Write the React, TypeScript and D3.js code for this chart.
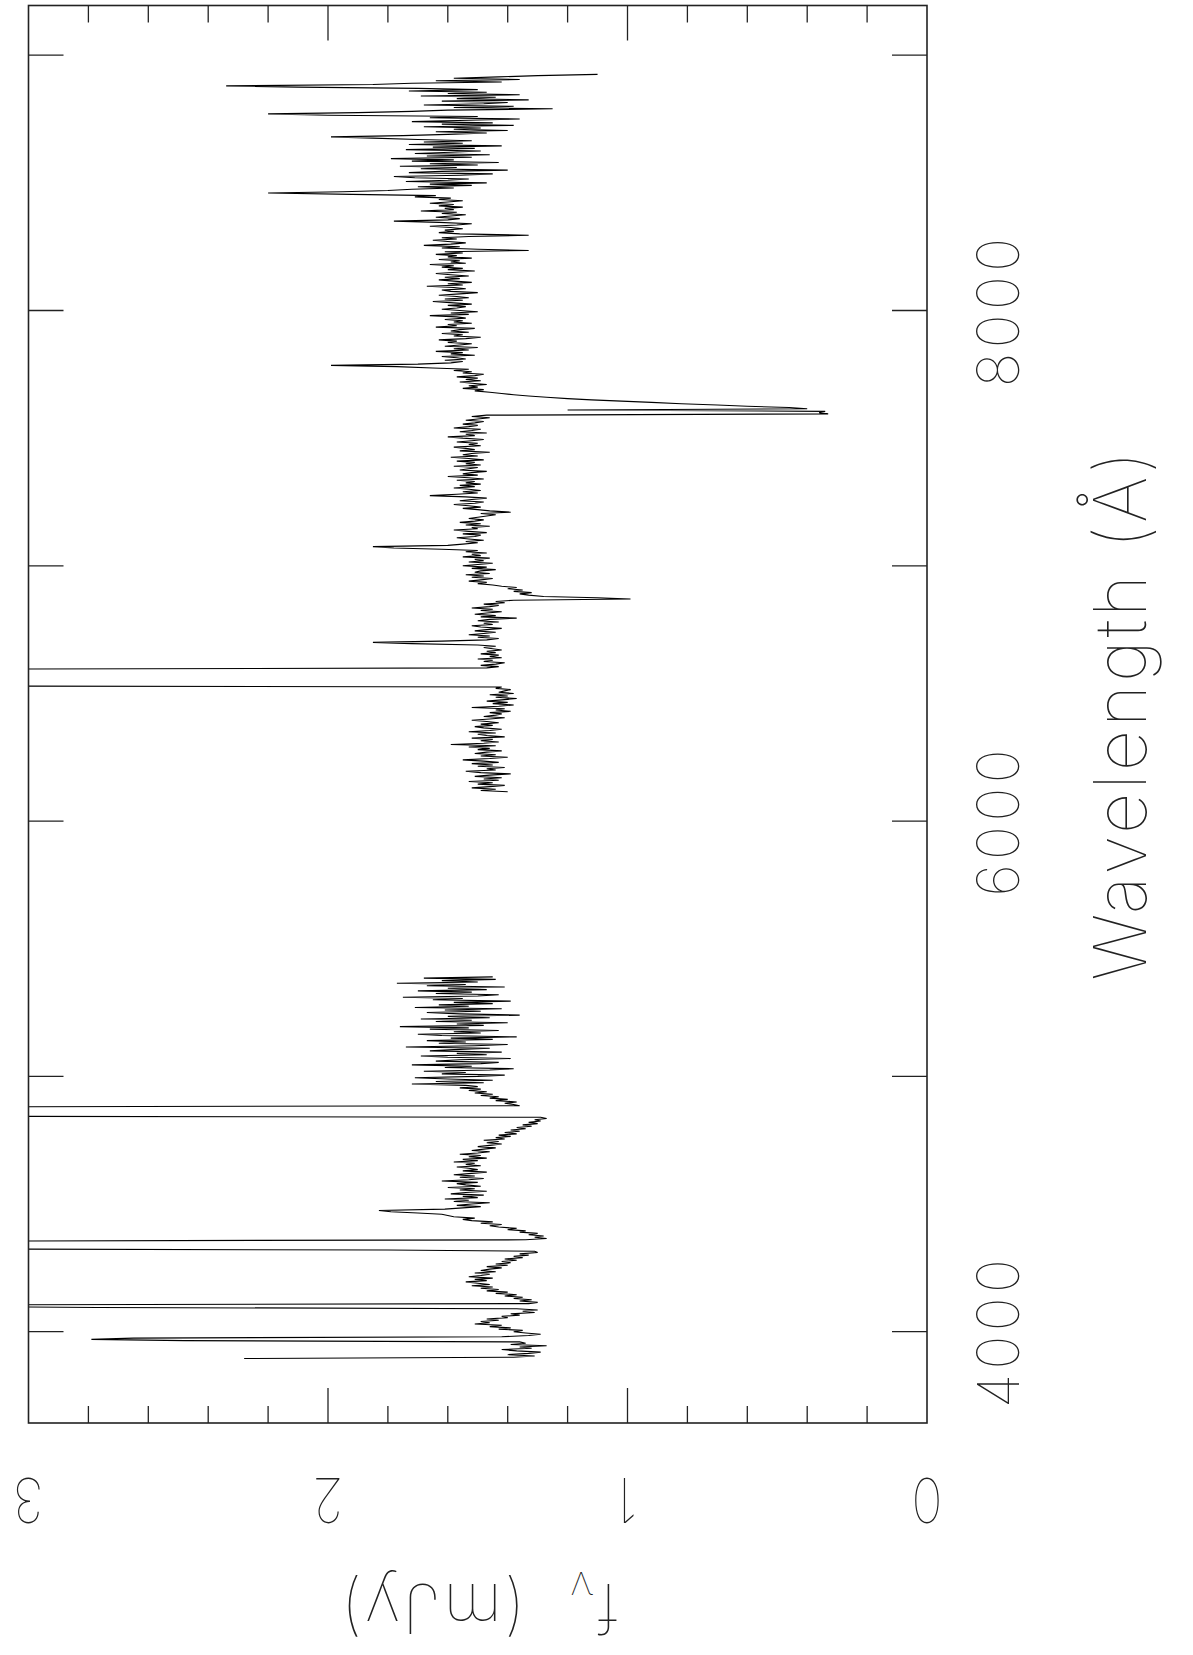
import React from 'react';
import * as d3 from 'd3';

const W = 1193;
const H = 1655;

// plot frame (pixels)
const frame = { left: 28.5, right: 927, top: 5.5, bottom: 1423 };

// wavelength grid of the two spectrum pieces (Angstrom)
const step = 5;
const blueStart = 3895;
const redStart = 6115;

// blue arm flux, mJy (10 samples = 50 A per row)
const blueFlux = [
  2.28, 1.38, 1.31, 1.40, 1.33, 1.29, 1.37, 1.42, 1.32, 1.36, // 3895
  1.27, 1.39, 1.34, 1.36, 2.48, 2.79, 2.65, 1.42, 1.33, 1.29, // 3945
  1.34, 1.38, 1.35, 1.43, 1.39, 1.46, 1.42, 1.51, 1.46, 1.49, // 3995
  1.43, 1.47, 1.40, 1.42, 1.36, 1.39, 1.31, 1.35, 1.30, 1.37, // 4045
  2.77, 3.40, 3.15, 1.33, 1.30, 1.36, 1.32, 1.38, 1.35, 1.41, // 4095
  1.37, 1.44, 1.40, 1.47, 1.43, 1.49, 1.45, 1.52, 1.46, 1.50, // 4145
  1.54, 1.47, 1.51, 1.45, 1.53, 1.49, 1.46, 1.51, 1.44, 1.49, // 4195
  1.46, 1.42, 1.47, 1.40, 1.44, 1.39, 1.42, 1.37, 1.41, 1.35, // 4245
  1.38, 1.33, 1.36, 1.30, 1.31, 1.80, 3.60, 4.20, 4.50, 4.60, // 4295
  4.30, 3.80, 3.20, 1.34, 1.27, 1.31, 1.28, 1.33, 1.30, 1.36, // 4345
  1.34, 1.40, 1.37, 1.43, 1.46, 1.42, 1.49, 1.45, 1.52, 1.55, // 4395
  1.51, 1.58, 1.60, 1.62, 1.70, 1.79, 1.83, 1.61, 1.55, 1.49, // 4445
  1.57, 1.52, 1.46, 1.58, 1.53, 1.61, 1.50, 1.55, 1.48, 1.59, // 4495
  1.54, 1.47, 1.56, 1.51, 1.60, 1.49, 1.54, 1.57, 1.50, 1.62, // 4545
  1.53, 1.48, 1.56, 1.51, 1.58, 1.52, 1.47, 1.55, 1.50, 1.53, // 4595
  1.57, 1.49, 1.54, 1.51, 1.58, 1.50, 1.55, 1.47, 1.53, 1.49, // 4645
  1.56, 1.50, 1.46, 1.52, 1.48, 1.44, 1.50, 1.46, 1.42, 1.47, // 4695
  1.43, 1.48, 1.41, 1.44, 1.39, 1.43, 1.37, 1.41, 1.36, 1.39, // 4745
  1.34, 1.37, 1.32, 1.35, 1.30, 1.33, 1.29, 1.31, 1.27, 1.29, // 4795
  3.80, 4.40, 4.90, 5.20, 5.00, 4.50, 4.00, 3.40, 1.36, 1.38, // 4845
  1.41, 1.37, 1.44, 1.40, 1.46, 1.43, 1.49, 1.45, 1.51, 1.47, // 4895
  1.53, 1.49, 1.56, 1.50, 1.54, 1.72, 1.48, 1.64, 1.45, 1.60, // 4945
  1.71, 1.50, 1.41, 1.62, 1.54, 1.68, 1.46, 1.38, 1.61, 1.52, // 4995
  1.72, 1.49, 1.43, 1.64, 1.56, 1.39, 1.60, 1.69, 1.47, 1.57, // 5045
  1.42, 1.66, 1.58, 1.46, 1.74, 1.51, 1.40, 1.63, 1.54, 1.67, // 5095
  1.45, 1.59, 1.37, 1.62, 1.70, 1.49, 1.58, 1.43, 1.66, 1.53, // 5145
  1.76, 1.48, 1.57, 1.40, 1.64, 1.52, 1.69, 1.46, 1.60, 1.36, // 5195
  1.56, 1.67, 1.49, 1.61, 1.42, 1.71, 1.53, 1.63, 1.45, 1.58, // 5245
  1.39, 1.65, 1.55, 1.75, 1.50, 1.43, 1.64, 1.52, 1.70, 1.47, // 5295
  1.60, 1.41, 1.67, 1.54, 1.77, 1.50, 1.62, 1.44, 1.68, 1.45, // 5345
];

// red arm flux, mJy (10 samples = 50 A per row)
const redFlux = [
  1.40, 1.49, 1.44, 1.52, 1.46, 1.41, 1.50, 1.45, 1.53, 1.43, // 6115
  1.48, 1.42, 1.51, 1.46, 1.39, 1.49, 1.54, 1.44, 1.47, 1.41, // 6165
  1.50, 1.45, 1.52, 1.43, 1.48, 1.55, 1.46, 1.40, 1.49, 1.44, // 6215
  1.51, 1.47, 1.42, 1.50, 1.46, 1.53, 1.44, 1.59, 1.48, 1.43, // 6265
  1.49, 1.45, 1.52, 1.41, 1.47, 1.50, 1.44, 1.53, 1.46, 1.42, // 6315
  1.48, 1.51, 1.45, 1.49, 1.43, 1.47, 1.52, 1.46, 1.41, 1.48, // 6365
  1.44, 1.42, 1.46, 1.39, 1.44, 1.41, 1.52, 1.43, 1.38, 1.45, // 6415
  1.40, 1.47, 1.42, 1.37, 1.44, 1.40, 1.46, 1.38, 1.43, 1.41, // 6465
  1.39, 1.44, 1.42, 3.50, 4.50, 5.50, 6.50, 7.20, 7.60, 7.80, // 6515
  7.60, 7.00, 6.20, 5.30, 4.50, 3.80, 3.20, 1.47, 1.43, 1.49, // 6565
  1.44, 1.41, 1.48, 1.45, 1.50, 1.42, 1.46, 1.43, 1.49, 1.44, // 6615
  1.47, 1.42, 1.45, 1.48, 1.44, 1.50, 1.72, 1.85, 1.62, 1.47, // 6665
  1.43, 1.50, 1.46, 1.53, 1.48, 1.44, 1.51, 1.47, 1.42, 1.49, // 6715
  1.52, 1.45, 1.48, 1.43, 1.50, 1.46, 1.37, 1.49, 1.44, 1.51, // 6765
  1.47, 1.42, 1.49, 1.45, 1.52, 1.46, 1.43, 1.48, 1.41, 1.44, // 6815
  1.38, 0.99, 1.10, 1.28, 1.33, 1.36, 1.32, 1.38, 1.35, 1.40, // 6865
  1.37, 1.42, 1.45, 1.50, 1.47, 1.53, 1.49, 1.45, 1.52, 1.48, // 6915
  1.54, 1.46, 1.51, 1.49, 1.44, 1.52, 1.47, 1.55, 1.50, 1.45, // 6965
  1.53, 1.48, 1.51, 1.46, 1.55, 1.49, 1.52, 1.47, 1.54, 1.50, // 7015
  1.62, 1.78, 1.85, 1.60, 1.55, 1.50, 1.54, 1.48, 1.53, 1.57, // 7065
  1.51, 1.49, 1.55, 1.47, 1.53, 1.58, 1.50, 1.52, 1.46, 1.54, // 7115
  1.49, 1.56, 1.51, 1.48, 1.53, 1.50, 1.47, 1.44, 1.49, 1.39, // 7165
  1.46, 1.50, 1.55, 1.49, 1.53, 1.58, 1.51, 1.48, 1.56, 1.52, // 7215
  1.47, 1.54, 1.66, 1.57, 1.50, 1.55, 1.49, 1.53, 1.58, 1.51, // 7265
  1.56, 1.49, 1.54, 1.51, 1.57, 1.48, 1.53, 1.60, 1.50, 1.55, // 7315
  1.52, 1.47, 1.56, 1.53, 1.50, 1.58, 1.49, 1.54, 1.51, 1.57, // 7365
  1.48, 1.53, 1.59, 1.50, 1.55, 1.52, 1.46, 1.56, 1.51, 1.54, // 7415
  1.58, 1.49, 1.53, 1.50, 1.57, 1.52, 1.48, 1.55, 1.60, 1.51, // 7465
  1.54, 1.47, 1.56, 1.52, 1.49, 1.58, 1.53, 1.50, 1.55, 1.51, // 7515
  1.48, 1.54, 1.50, 1.46, 1.52, 1.47, 0.33, 0.36, 0.34, 1.20, // 7565
  0.40, 0.46, 0.60, 0.70, 0.82, 0.92, 1.02, 1.12, 1.20, 1.27, // 7615
  1.33, 1.38, 1.42, 1.46, 1.51, 1.48, 1.55, 1.50, 1.53, 1.47, // 7665
  1.52, 1.56, 1.49, 1.54, 1.50, 1.57, 1.51, 1.48, 1.55, 1.52, // 7715
  1.58, 1.53, 1.65, 1.77, 1.99, 1.70, 1.59, 1.55, 1.61, 1.54, // 7765
  1.57, 1.62, 1.51, 1.59, 1.55, 1.64, 1.53, 1.58, 1.50, 1.61, // 7815
  1.56, 1.52, 1.60, 1.57, 1.63, 1.54, 1.49, 1.58, 1.55, 1.62, // 7865
  1.53, 1.59, 1.56, 1.51, 1.64, 1.57, 1.60, 1.52, 1.58, 1.55, // 7915
  1.61, 1.54, 1.57, 1.66, 1.53, 1.59, 1.50, 1.56, 1.62, 1.57, // 7965
  1.54, 1.60, 1.52, 1.58, 1.65, 1.55, 1.61, 1.53, 1.57, 1.63, // 8015
  1.56, 1.50, 1.59, 1.62, 1.54, 1.58, 1.67, 1.55, 1.60, 1.52, // 8065
  1.58, 1.63, 1.56, 1.61, 1.53, 1.59, 1.64, 1.57, 1.51, 1.60, // 8115
  1.55, 1.62, 1.58, 1.66, 1.54, 1.59, 1.56, 1.63, 1.52, 1.60, // 8165
  1.57, 1.64, 1.55, 1.61, 1.33, 1.50, 1.62, 1.56, 1.68, 1.59, // 8215
  1.54, 1.60, 1.65, 1.57, 1.62, 1.53, 1.33, 1.56, 1.63, 1.58, // 8265
  1.61, 1.55, 1.59, 1.66, 1.57, 1.52, 1.63, 1.78, 1.60, 1.56, // 8315
  1.64, 1.59, 1.54, 1.62, 1.57, 1.69, 1.58, 1.61, 1.55, 1.63, // 8365
  1.58, 1.66, 1.60, 1.55, 1.63, 1.59, 1.71, 1.64, 1.92, 2.20, // 8415
  1.95, 1.80, 1.72, 1.58, 1.70, 1.52, 1.66, 1.47, 1.74, 1.60, // 8465
  1.53, 1.71, 1.78, 1.56, 1.45, 1.73, 1.62, 1.40, 1.69, 1.57, // 8515
  1.76, 1.50, 1.66, 1.43, 1.72, 1.58, 1.79, 1.52, 1.67, 1.46, // 8565
  1.71, 1.59, 1.49, 1.74, 1.51, 1.65, 1.42, 1.73, 1.55, 1.68, // 8615
  1.52, 1.70, 1.85, 1.99, 1.75, 1.60, 1.47, 1.64, 1.40, 1.58, // 8665
  1.49, 1.68, 1.38, 1.62, 1.45, 1.72, 1.53, 1.36, 1.66, 1.50, // 8715
  2.00, 2.20, 1.90, 1.72, 1.60, 1.25, 1.58, 1.38, 1.68, 1.48, // 8765
  1.40, 1.62, 1.33, 1.57, 1.44, 1.69, 1.36, 1.60, 1.47, 1.73, // 8815
  1.50, 1.70, 2.10, 2.34, 1.85, 1.72, 1.42, 1.64, 1.36, 1.58, // 8865
  1.43, 1.30, 1.10, // 8915
];

// axis ticks
const waveMajorTicks = [4000, 5000, 6000, 7000, 8000, 9000];
const waveTickLabels = [4000, 6000, 8000];
const fluxMajorTicks = [1, 2];
const fluxMinorTicks = [0.2, 0.4, 0.6, 0.8, 1.2, 1.4, 1.6, 1.8, 2.2, 2.4, 2.6, 2.8];
const fluxTickLabels = [0, 1, 2, 3];

const FONT = "Inter, 'DejaVu Sans', sans-serif";

export default function App() {
  // flux runs right-to-left, wavelength runs bottom-to-top
  const x = d3.scaleLinear().domain([0, 3]).range([frame.right, frame.left]);
  const y = d3.scaleLinear().domain([4000, 9000]).range([1331.7, 55.2]);

  const toPoints = (start: number, flux: number[]) =>
    flux.map((f, i) => [start + i * step, f] as [number, number]);

  const line = d3
    .line<[number, number]>()
    .x((d) => x(d[1]))
    .y((d) => y(d[0]));

  const pieces = [toPoints(blueStart, blueFlux), toPoints(redStart, redFlux)];

  const majLen = 35;
  const minLen = 17;

  return (
    <div style={{ position: 'absolute', left: 0, top: 0, width: W, height: H, background: '#fff' }}>
      <svg width={W} height={H} viewBox={`0 0 ${W} ${H}`} style={{ display: 'block' }}>
        <defs>
          <clipPath id="plotArea">
            <rect
              x={frame.left}
              y={frame.top}
              width={frame.right - frame.left}
              height={frame.bottom - frame.top}
            />
          </clipPath>
        </defs>
        <rect x={0} y={0} width={W} height={H} fill="#fff" />

        {/* spectrum */}
        <g clipPath="url(#plotArea)">
          {pieces.map((p, i) => (
            <path key={i} d={line(p) || ''} fill="none" stroke="#000" strokeWidth={1.1} />
          ))}
        </g>

        {/* frame */}
        <rect
          x={frame.left}
          y={frame.top}
          width={frame.right - frame.left}
          height={frame.bottom - frame.top}
          fill="none"
          stroke="#222"
          strokeWidth={1.6}
        />

        {/* wavelength ticks on left and right edges */}
        {waveMajorTicks.map((w) => (
          <g key={w} stroke="#222" strokeWidth={1.3}>
            <line x1={frame.left} x2={frame.left + majLen} y1={y(w)} y2={y(w)} />
            <line x1={frame.right - majLen} x2={frame.right} y1={y(w)} y2={y(w)} />
          </g>
        ))}

        {/* flux ticks on top and bottom edges */}
        {fluxMajorTicks.map((f) => (
          <g key={'M' + f} stroke="#222" strokeWidth={1.3}>
            <line x1={x(f)} x2={x(f)} y1={frame.top} y2={frame.top + majLen} />
            <line x1={x(f)} x2={x(f)} y1={frame.bottom - majLen} y2={frame.bottom} />
          </g>
        ))}
        {fluxMinorTicks.map((f) => (
          <g key={'m' + f} stroke="#222" strokeWidth={1.3}>
            <line x1={x(f)} x2={x(f)} y1={frame.top} y2={frame.top + minLen} />
            <line x1={x(f)} x2={x(f)} y1={frame.bottom - minLen} y2={frame.bottom} />
          </g>
        ))}

        {/* wavelength tick labels */}
        {waveTickLabels.map((w) => (
          <text
            key={'wl' + w}
            transform={`translate(1019, ${y(w)}) rotate(-90)`}
            textAnchor="middle"
            fontFamily={FONT}
            fontWeight={100}
            fontSize={58}
            letterSpacing={4}
            fill="#222"
          >
            {w}
          </text>
        ))}

        {/* flux tick labels */}
        {fluxTickLabels.map((f) => (
          <text
            key={'fl' + f}
            transform={`translate(${x(f)}, 1478) rotate(180) scale(0.85, 1)`}
            textAnchor="middle"
            fontFamily={FONT}
            fontWeight={100}
            fontSize={62}
            fill="#222"
          >
            {f}
          </text>
        ))}

        {/* axis titles */}
        <text
          transform={`translate(1146, ${(frame.top + frame.bottom) / 2}) rotate(-90)`}
          textAnchor="middle"
          fontFamily={FONT}
          fontWeight={100}
          fontSize={72}
          letterSpacing={3}
          fill="#222"
        >
          Wavelength (Å)
        </text>
        <text
          transform={`translate(${(frame.left + frame.right) / 2}, 1584) rotate(180)`}
          textAnchor="middle"
          fontFamily={FONT}
          fontWeight={100}
          fontSize={68}
          letterSpacing={2}
          fill="#222"
        >
          f
          <tspan fontSize={42} dy={12}>ν</tspan>
          <tspan dy={-12}>{'\u00a0\u00a0(mJy)'}</tspan>
        </text>
      </svg>
    </div>
  );
}
